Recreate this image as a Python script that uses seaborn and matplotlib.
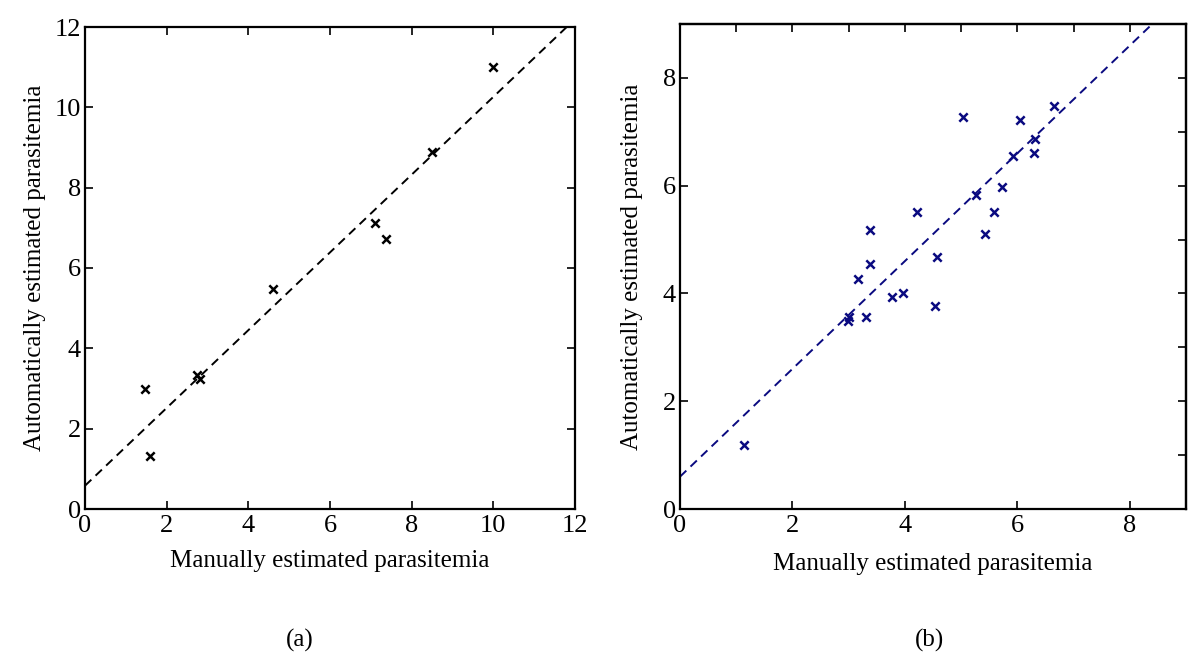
import matplotlib
matplotlib.use("Agg")
import matplotlib.pyplot as plt
import seaborn as sns
import pandas as pd
from matplotlib.ticker import MultipleLocator

# ---- data ----
manual_a = [1.48, 1.58, 2.75, 2.82, 4.60, 7.09, 7.37, 8.50, 9.98]
auto_a = [3.00, 1.32, 3.33, 3.23, 5.48, 7.11, 6.71, 8.89, 11.00]
fit_a_intercept = 0.58
fit_a_slope = 0.968

manual_b = [1.13, 2.98, 3.00, 3.30, 3.17, 3.38, 3.38, 3.77, 3.97, 4.22, 4.54,
            4.57, 5.03, 5.27, 5.42, 5.58, 5.72, 5.92, 6.04, 6.30, 6.32, 6.66]
auto_b = [1.19, 3.49, 3.56, 3.56, 4.26, 4.55, 5.17, 3.94, 4.00, 5.51, 3.76,
          4.67, 7.27, 5.82, 5.10, 5.51, 5.98, 6.55, 7.21, 6.61, 6.86, 7.47]
fit_b_intercept = 0.60
fit_b_slope = 1.0

xticks_a = [0, 2, 4, 6, 8, 10, 12]
yticks_a = [0, 2, 4, 6, 8, 10, 12]
xticks_b = [0, 2, 4, 6, 8]
yticks_b = [0, 2, 4, 6, 8]

xlabel = "Manually estimated parasitemia"
ylabel = "Automatically estimated parasitemia"
captions = ["(a)", "(b)"]

df_a = pd.DataFrame({"manual": manual_a, "auto": auto_a})
df_b = pd.DataFrame({"manual": manual_b, "auto": auto_b})

sns.set_theme(style="white")
plt.rcParams["font.family"] = ["Liberation Serif", "DejaVu Serif"]
plt.rcParams["text.color"] = "black"
plt.rcParams["axes.labelcolor"] = "black"
plt.rcParams["xtick.color"] = "black"
plt.rcParams["ytick.color"] = "black"

fig = plt.figure(figsize=(12, 6.71), dpi=100)
fig.patch.set_facecolor("white")

ax_a = fig.add_axes([85 / 1200, 1 - 509 / 671, 490 / 1200, 482 / 671])
ax_b = fig.add_axes([680 / 1200, 1 - 509 / 671, 506 / 1200, 485 / 671])

navy = "#0a0a80"

def style(ax, xlim, ylim, xt, yt):
    ax.set_xlim(*xlim)
    ax.set_ylim(*ylim)
    ax.set_xticks(xt)
    ax.set_yticks(yt)
    ax.set_xticklabels([str(t) for t in xt])
    ax.set_yticklabels([str(t) for t in yt])
    for s in ax.spines.values():
        s.set_visible(True)
        s.set_color("black")
        s.set_linewidth(1.6)
    ax.tick_params(direction="in", length=6, width=1.2, labelsize=19,
                   colors="black")
    ax.tick_params(axis="x", pad=4)
    ax.tick_params(axis="y", pad=3)
    ax.set_facecolor("white")
    ax.grid(False)

# (a)
sns.scatterplot(data=df_a, x="manual", y="auto", ax=ax_a, marker="x",
                color="black", s=36, linewidth=1.8)
ax_a.axline((0, fit_a_intercept), slope=fit_a_slope, color="black",
            linestyle=(0, (4.5, 3)), linewidth=1.4)
style(ax_a, (0, 12), (0, 12), xticks_a, yticks_a)
ax_a.tick_params(top=True, right=True, bottom=True, left=True)
ax_a.set_xlabel(xlabel, fontsize=18, labelpad=10, color="black")
ax_a.set_ylabel(ylabel, fontsize=18, labelpad=6, color="black")

# (b)
sns.scatterplot(data=df_b, x="manual", y="auto", ax=ax_b, marker="x",
                color=navy, s=36, linewidth=1.8)
ax_b.axline((0, fit_b_intercept), slope=fit_b_slope, color=navy,
            linestyle=(0, (4.5, 3)), linewidth=1.4)
style(ax_b, (0, 9), (0, 9), xticks_b, yticks_b)
ax_b.tick_params(top=False, right=False, bottom=True, left=True)
sec_x = ax_b.secondary_xaxis("top")
sec_x.xaxis.set_major_locator(MultipleLocator(1))
sec_x.tick_params(direction="in", length=6, width=1.2, labeltop=False,
                  colors="black")
sec_y = ax_b.secondary_yaxis("right")
sec_y.yaxis.set_major_locator(MultipleLocator(1))
sec_y.tick_params(direction="in", length=6, width=1.2, labelright=False,
                  colors="black")
for sa in (sec_x, sec_y):
    for s in sa.spines.values():
        s.set_linewidth(1.6)
        s.set_color("black")
ax_b.set_xlabel(xlabel, fontsize=18, labelpad=12, color="black")
ax_b.set_ylabel(ylabel, fontsize=18, labelpad=14, color="black")

fig.text(300 / 1200, 1 - 640 / 671, captions[0], ha="center", va="center",
         fontsize=18, color="black")
fig.text(930 / 1200, 1 - 640 / 671, captions[1], ha="center", va="center",
         fontsize=18, color="black")

fig.savefig("out.png", dpi=100, facecolor="white")
